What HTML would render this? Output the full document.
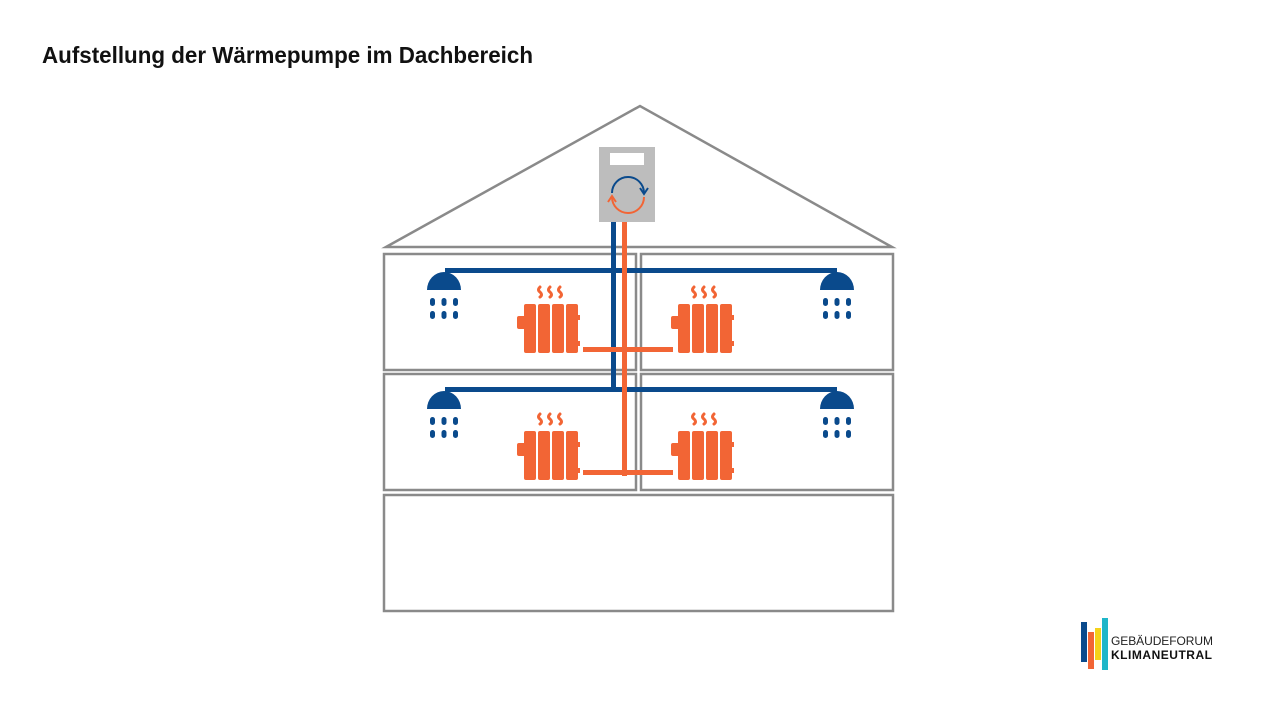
<!DOCTYPE html>
<html><head><meta charset="utf-8"><style>
html,body{margin:0;padding:0;background:#fff;width:1280px;height:720px;overflow:hidden}
</style></head><body>
<svg width="1280" height="720" viewBox="0 0 1280 720" xmlns="http://www.w3.org/2000/svg">
<defs>
<g id="rad" fill="#f26535">
  <rect x="0" y="12" width="9" height="13" rx="2"/>
  <rect x="7" y="0" width="12" height="49" rx="2"/>
  <rect x="21" y="0" width="12" height="49" rx="2"/>
  <rect x="35" y="0" width="12" height="49" rx="2"/>
  <rect x="49" y="0" width="12" height="49" rx="2"/>
  <rect x="59" y="11" width="4" height="5"/>
  <rect x="59" y="37" width="4" height="5"/>
  <g fill="none" stroke="#f26535" stroke-width="3" stroke-linecap="round">
    <path d="M23,-17 q-3,3 0,5 q3,3 0,5"/>
    <path d="M33,-17 q-3,3 0,5 q3,3 0,5"/>
    <path d="M43,-17 q-3,3 0,5 q3,3 0,5"/>
  </g>
</g>
<g id="shw" fill="#0a4a8c">
  <path d="M0,20 A17,18 0 0 1 34,20 Z"/>
  <rect x="3" y="28" width="5" height="8" rx="2.5"/>
  <rect x="14.5" y="28" width="5" height="8" rx="2.5"/>
  <rect x="26" y="28" width="5" height="8" rx="2.5"/>
  <rect x="3" y="41" width="5" height="8" rx="2.5"/>
  <rect x="14.5" y="41" width="5" height="8" rx="2.5"/>
  <rect x="26" y="41" width="5" height="8" rx="2.5"/>
</g>
</defs>
<text x="42" y="63" font-family="Liberation Sans, Arial, sans-serif" font-weight="bold" font-size="23" fill="#111" textLength="491" lengthAdjust="spacingAndGlyphs">Aufstellung der Wärmepumpe im Dachbereich</text>

<g fill="none" stroke="#8a8a8a" stroke-width="2.5">
  <path d="M386,247 L640,106 L892,247 Z"/>
  <rect x="384" y="254" width="252" height="116"/>
  <rect x="641" y="254" width="252" height="116"/>
  <rect x="384" y="374" width="252" height="116"/>
  <rect x="641" y="374" width="252" height="116"/>
  <rect x="384" y="495" width="509" height="116"/>
</g>

<!-- heat pump -->
<rect x="599" y="147" width="56" height="75" fill="#bdbdbd"/>
<rect x="610" y="153" width="34" height="12" fill="#fff"/>
<path d="M612,193 A16,16 0 0 1 644,193" fill="none" stroke="#0a4a8c" stroke-width="2"/>
<path d="M640,188 L644,194 L648,188" fill="none" stroke="#0a4a8c" stroke-width="2"/>
<path d="M644,197 A16,16 0 0 1 612,197" fill="none" stroke="#f26535" stroke-width="2"/>
<path d="M608,202 L612,196 L616,202" fill="none" stroke="#f26535" stroke-width="2"/>

<!-- blue pipes -->
<g fill="#0a4a8c">
  <rect x="611" y="222" width="5" height="170"/>
  <rect x="445" y="268" width="392" height="5"/>
  <rect x="445" y="387" width="392" height="5"/>
</g>
<!-- orange pipes -->
<g fill="#f26535">
  <rect x="622" y="222" width="5" height="254"/>
  <rect x="583" y="347" width="90" height="5"/>
  <rect x="583" y="470" width="90" height="5"/>
</g>

<use href="#shw" x="427" y="270"/>
<use href="#shw" x="820" y="270"/>
<use href="#shw" x="427" y="389"/>
<use href="#shw" x="820" y="389"/>

<use href="#rad" x="517" y="304"/>
<use href="#rad" x="671" y="304"/>
<use href="#rad" x="517" y="431"/>
<use href="#rad" x="671" y="431"/>

<!-- logo -->
<rect x="1081" y="622" width="6" height="40" fill="#0a4a8c"/>
<rect x="1088" y="632" width="6" height="37" fill="#f26535"/>
<rect x="1095" y="628" width="6" height="32" fill="#f5d21a"/>
<rect x="1102" y="618" width="6" height="52" fill="#1fb6c9"/>
<text x="1111" y="645" font-family="Liberation Sans, Arial, sans-serif" font-size="12" fill="#222" textLength="102">GEBÄUDEFORUM</text>
<text x="1111" y="659" font-family="Liberation Sans, Arial, sans-serif" font-weight="bold" font-size="12" fill="#111" textLength="101">KLIMANEUTRAL</text>
</svg>
</body></html>
